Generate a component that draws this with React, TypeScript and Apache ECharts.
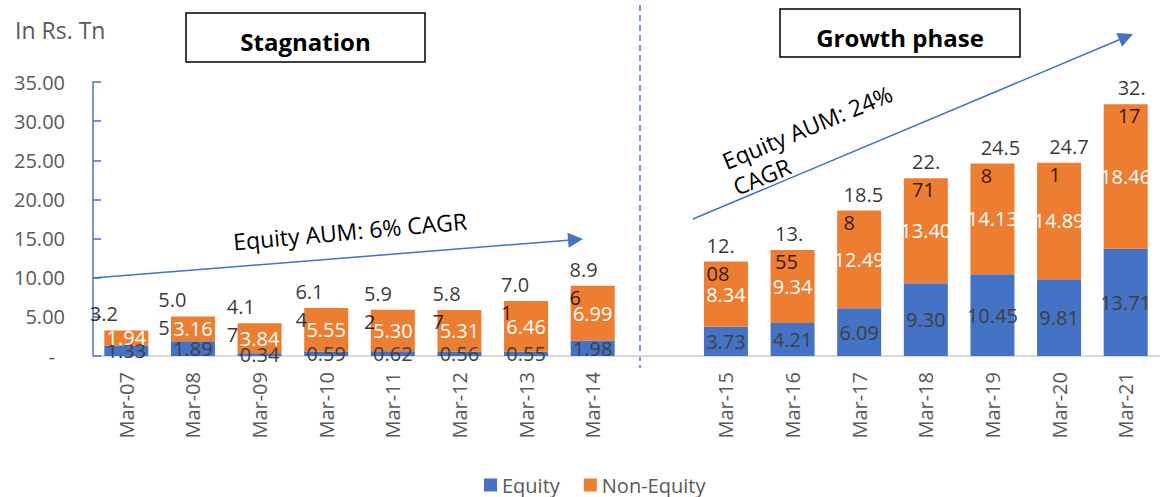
import React, { useEffect, useRef } from "react";
import * as echarts from "echarts";

const categories = ["Mar-07", "Mar-08", "Mar-09", "Mar-10", "Mar-11", "Mar-12", "Mar-13", "Mar-14", "", "Mar-15", "Mar-16", "Mar-17", "Mar-18", "Mar-19", "Mar-20", "Mar-21"];
const equity: (number | null)[] = [1.33, 1.89, 0.34, 0.59, 0.62, 0.56, 0.55, 1.98, null, 3.73, 4.21, 6.09, 9.3, 10.45, 9.81, 13.71];
const nonEquity: (number | null)[] = [1.94, 3.16, 3.84, 5.55, 5.3, 5.31, 6.46, 6.99, null, 8.34, 9.34, 12.49, 13.4, 14.13, 14.89, 18.46];
const totalLabels = ["3.2", "5.0\n5", "4.1\n7", "6.1\n4", "5.9\n2", "5.8\n7", "7.0\n1", "8.9\n6", "", "12.\n08", "13.\n55", "18.5\n8", "22.\n71", "24.5\n8", "24.7\n1", "32.\n17"];
const yMin = 0;
const yMax = 35;
const yInterval = 5;
const seriesNames = ["Equity", "Non-Equity"];

const FONT = "'Open Sans', 'Liberation Sans', sans-serif";
const BLUE = "#4472C4";
const ORANGE = "#ED7D31";
const GREY = "#595959";

function arrow(x1: number, y1: number, x2: number, y2: number, len = 15, half = 7.5) {
  const dx = x2 - x1, dy = y2 - y1;
  const L = Math.hypot(dx, dy);
  const ux = dx / L, uy = dy / L;
  const bx = x2 - ux * len, by = y2 - uy * len;
  return [
    { type: "line", shape: { x1, y1, x2: bx, y2: by }, style: { stroke: BLUE, lineWidth: 1.5 }, z: 10 },
    {
      type: "polygon",
      shape: { points: [[x2, y2], [bx - uy * half, by + ux * half], [bx + uy * half, by - ux * half]] },
      style: { fill: BLUE },
      z: 10,
    },
  ];
}

export default function App() {
  const ref = useRef<HTMLDivElement>(null);
  useEffect(() => {
    if (!ref.current) return;
    const chart = echarts.init(ref.current, null, { renderer: "svg" });
    const totals = categories.map((_, i) =>
      equity[i] == null ? null : [i, (equity[i] as number) + (nonEquity[i] as number)]
    );
    const totalData = totals
      .map((p, i) => (p == null ? null : {
        value: p,
        label: { position: [-36 + 1.9 * i, -30] },
      }))
      .filter((d) => d != null);

    const option: any = {
      animation: false,
      textStyle: { fontFamily: FONT },
      grid: { left: 93, right: 1, top: 82, bottom: 141, containLabel: false },
      legend: {
        data: seriesNames,
        left: 479,
        top: 470,
        icon: "rect",
        itemWidth: 13,
        itemHeight: 13,
        itemGap: 24,
        textStyle: { color: GREY, fontSize: 20, fontFamily: FONT },
      },
      xAxis: {
        type: "category",
        data: categories,
        axisLine: { lineStyle: { color: "#D9D9D9", width: 2 } },
        axisTick: { show: false },
        axisLabel: { rotate: 90, color: GREY, fontSize: 20, margin: 16, interval: 0 },
      },
      yAxis: {
        type: "value",
        min: yMin,
        max: yMax,
        interval: yInterval,
        splitLine: { show: false },
        axisLine: { show: true, lineStyle: { color: BLUE, width: 1.5 } },
        axisTick: { show: true, inside: true, length: 8, lineStyle: { color: BLUE, width: 1.5 } },
        axisLabel: {
          color: GREY,
          fontSize: 20,
          margin: 28,
          formatter: (v: number) => (v === 0 ? "{d|-}" : v.toFixed(2)),
          rich: { d: { color: GREY, fontSize: 20, padding: [0, 10, 0, 0] } },
        },
      },
      series: [
        {
          name: seriesNames[0],
          type: "bar",
          stack: "aum",
          barWidth: 44,
          data: equity,
          itemStyle: { color: BLUE },
          label: {
            show: true,
            position: "inside",
            color: "#404040",
            fontSize: 20,
            formatter: (p: any) => (p.value == null ? "" : Number(p.value).toFixed(2)),
          },
        },
        {
          name: seriesNames[1],
          type: "bar",
          stack: "aum",
          barWidth: 44,
          data: nonEquity,
          itemStyle: { color: ORANGE },
          label: {
            show: true,
            position: "inside",
            color: "#FFFFFF",
            fontSize: 20,
            formatter: (p: any) => (p.value == null ? "" : Number(p.value).toFixed(2)),
          },
        },
        {
          name: "Total",
          type: "scatter",
          symbolSize: 1,
          itemStyle: { color: "rgba(0,0,0,0)" },
          data: totalData,
          z: 5,
          label: {
            show: true,
            color: "#000",
            fontSize: 20,
            lineHeight: 28,
            align: "left",
            verticalAlign: "top",
            formatter: (p: any) => totalLabels[p.value[0]],
          },
        },
      ],
      graphic: [
        { type: "text", x: 15, y: 30, style: { text: "In Rs. Tn", fill: GREY, fontSize: 23, fontFamily: FONT, verticalAlign: "middle" } },
        { type: "rect", shape: { x: 186, y: 13, width: 239, height: 49 }, style: { fill: "#fff", stroke: "#000", lineWidth: 1.5 } },
        { type: "text", x: 305.5, y: 41, style: { text: "Stagnation", fill: "#000", fontSize: 24, fontWeight: "bold", fontFamily: FONT, align: "center", verticalAlign: "middle" } },
        { type: "rect", shape: { x: 780, y: 9, width: 240, height: 48 }, style: { fill: "#fff", stroke: "#000", lineWidth: 1.5 } },
        { type: "text", x: 900, y: 37, style: { text: "Growth phase", fill: "#000", fontSize: 24, fontWeight: "bold", fontFamily: FONT, align: "center", verticalAlign: "middle" } },
        { type: "line", shape: { x1: 640, y1: 5, x2: 640, y2: 368 }, style: { stroke: BLUE, lineWidth: 1.5, lineDash: [6, 4] } },
        ...arrow(93, 278, 583, 239),
        ...arrow(693, 219, 1133, 34),
        { type: "text", x: 350, y: 231, rotation: 0.09, style: { text: "Equity AUM: 6% CAGR", fill: "#000", fontSize: 23, fontFamily: FONT, align: "center", verticalAlign: "middle" }, z: 11 },
        { type: "text", x: 718, y: 149, rotation: 0.394, style: { text: "Equity AUM: 24%\nCAGR", fill: "#000", fontSize: 23, lineHeight: 28, fontFamily: FONT, align: "left", verticalAlign: "top" }, z: 11 },
      ],
    };
    chart.setOption(option);
    return () => chart.dispose();
  }, []);
  return <div ref={ref} style={{ position: "absolute", left: 0, top: 0, width: 1160, height: 497 }} />;
}
